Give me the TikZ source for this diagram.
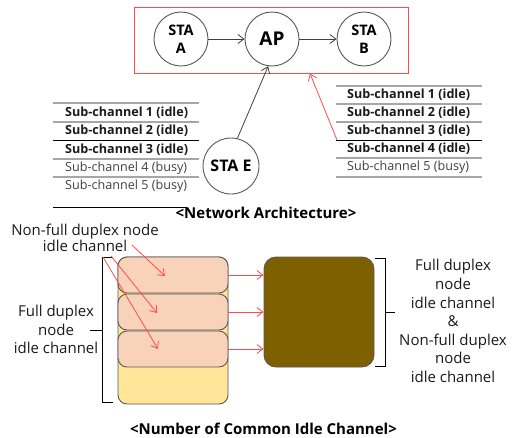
\documentclass[tikz,border=0pt]{standalone}
\usepackage{fontspec}
\setmainfont{Open Sans}
\usetikzlibrary{arrows.meta}
\definecolor{circgray}{HTML}{595959}
\definecolor{arrgray}{HTML}{404040}
\definecolor{rulegray}{HTML}{A6A6A6}
\definecolor{redline}{HTML}{FF4B4B}
\definecolor{yellowfill}{HTML}{FFE699}
\definecolor{peachfill}{HTML}{F9D3B9}
\definecolor{brownfill}{HTML}{7F6000}
\definecolor{txtdark}{HTML}{1A1A1A}
\definecolor{txtgray}{HTML}{404040}
\tikzset{
  sta/.style={circle,draw=circgray,line width=0.9pt,minimum size=54pt,inner sep=0pt,
    font=\fontsize{14.5}{18}\selectfont\bfseries,align=center},
  conn/.style={draw=arrgray,line width=0.8pt,-{Straight Barb[length=6pt,width=9pt]}},
  redarr/.style={draw=redline,line width=0.8pt,-{Straight Barb[length=6pt,width=9pt]}},
  rowbold/.style={anchor=west,inner sep=0pt,text=txtdark,font=\fontsize{12.6}{14}\selectfont\bfseries},
  rownorm/.style={anchor=west,inner sep=0pt,text=txtgray,font=\fontsize{12.6}{14}\selectfont},
  grule/.style={draw=rulegray,line width=1.2pt},
  brule/.style={draw=black,line width=0.8pt},
  lbl/.style={align=center,inner sep=0pt,text=txtdark,font=\fontsize{15}{18.6}\selectfont},
  title/.style={inner sep=0pt,font=\fontsize{15}{17}\selectfont\bfseries},
  chbox/.style={draw=circgray,line width=0.9pt,rounded corners=9pt},
  brack/.style={draw=black,line width=0.7pt}
}
\begin{document}
\begin{tikzpicture}[x=1pt,y=-1pt]
\useasboundingbox (0,0) rectangle (512,437);
% top group
\node[draw=redline,line width=0.9pt,minimum width=274pt,minimum height=66pt,inner sep=0pt] (grp) at (271,40) {};
\node[sta] (A) at (181,39) {STA\\A};
\node[sta,font=\fontsize{19}{20}\selectfont\bfseries] (AP) at (272,39) {AP};
\node[sta] (B) at (364,39) {STA\\B};
\node[sta,minimum size=56pt,font=\fontsize{16}{18}\selectfont\bfseries] (E) at (231,166) {STA E};
\draw[conn] (A) -- (AP);
\draw[conn] (AP) -- (B);
\draw[conn] (E.77) -- (AP.262);
% left table
\draw[grule] (53,103) -- (199,103);
\draw[grule] (53,122) -- (199,122);
\draw[brule] (53,140) -- (199,140);
\draw[grule] (53,159) -- (199,159);
\draw[grule] (53,177) -- (199,177);
\draw[brule] (53,207) -- (187,207);
\node[rowbold] (l1) at (65,112.5) {Sub-channel 1 (idle)};
\node[rowbold] (l2) at (65,131) {Sub-channel 2 (idle)};
\node[rowbold] (l3) at (65,149.5) {Sub-channel 3 (idle)};
\node[rownorm] (l4) at (65,168) {Sub-channel 4 (busy)};
\node[rownorm] (l5) at (65,186.5) {Sub-channel 5 (busy)};
% right table
\draw[grule] (336,86) -- (482,86);
\draw[grule] (336,104) -- (482,104);
\draw[grule] (336,122) -- (482,122);
\draw[brule] (336,140) -- (482,140);
\draw[grule] (336,158) -- (482,158);
\draw[grule] (336,177) -- (482,177);
\node[rowbold] (r1) at (347,95) {Sub-channel 1 (idle)};
\node[rowbold] (r2) at (347,113) {Sub-channel 2 (idle)};
\node[rowbold] (r3) at (347,131) {Sub-channel 3 (idle)};
\node[rowbold] (r4) at (347,149) {Sub-channel 4 (idle)};
\node[rownorm] (r5) at (347,167.5) {Sub-channel 5 (busy)};
\coordinate (rs) at (337,140);
\coordinate (rt) at (310,73.5);
\draw[redarr] (rs) -- (rt);
\node[title] (t1) at (266,213) {<Network Architecture>};
% lower part
\node[lbl,font=\fontsize{15}{16}\selectfont] (nf) at (85,238) {Non-full duplex node\\idle channel};
\node[lbl] (fd) at (56,329.5) {Full duplex\\node\\idle channel};
\draw[brack] (113,257) -- (102,257) -- (102,402) -- (113,402);
\draw[brack] (102,330) -- (90,330);
\draw[chbox,fill=yellowfill] (118,257) rectangle (228,404);
\node[chbox,fill=peachfill,minimum width=110pt,minimum height=36pt,inner sep=0pt] (p1) at (173,275) {};
\node[chbox,fill=peachfill,minimum width=110pt,minimum height=36pt,inner sep=0pt] (p2) at (173,312) {};
\node[chbox,fill=peachfill,minimum width=110pt,minimum height=36pt,inner sep=0pt] (p3) at (173,349) {};
\node[chbox,fill=brownfill,minimum width=110pt,minimum height=110pt,inner sep=0pt,rounded corners=12pt] (br) at (319,312) {};
\coordinate (s1) at (132,245);
\coordinate (s2) at (111,256);
\coordinate (s3) at (103,257);
\coordinate (e1) at (165,276);
\coordinate (e2) at (157,313);
\coordinate (e3) at (158,349);
\draw[redarr] (s1) -- (e1);
\draw[redarr] (s2) -- (e2);
\draw[redarr] (s3) -- (e3);
\draw[redarr] (p1.east) -- (br.west |- p1.east);
\draw[redarr] (p2.east) -- (br.west |- p2.east);
\draw[redarr] (p3.east) -- (br.west |- p3.east);
\draw[brack] (375,258.5) -- (385,258.5) -- (385,366) -- (375,366);
\draw[brack] (385,312) -- (395,312);
\node[lbl] (fr) at (453,321) {Full duplex\\node\\idle channel\\\&\\Non-full duplex\\node\\idle channel};
\node[title] (t2) at (263.5,429) {<Number of Common Idle Channel>};
\end{tikzpicture}
\end{document}
